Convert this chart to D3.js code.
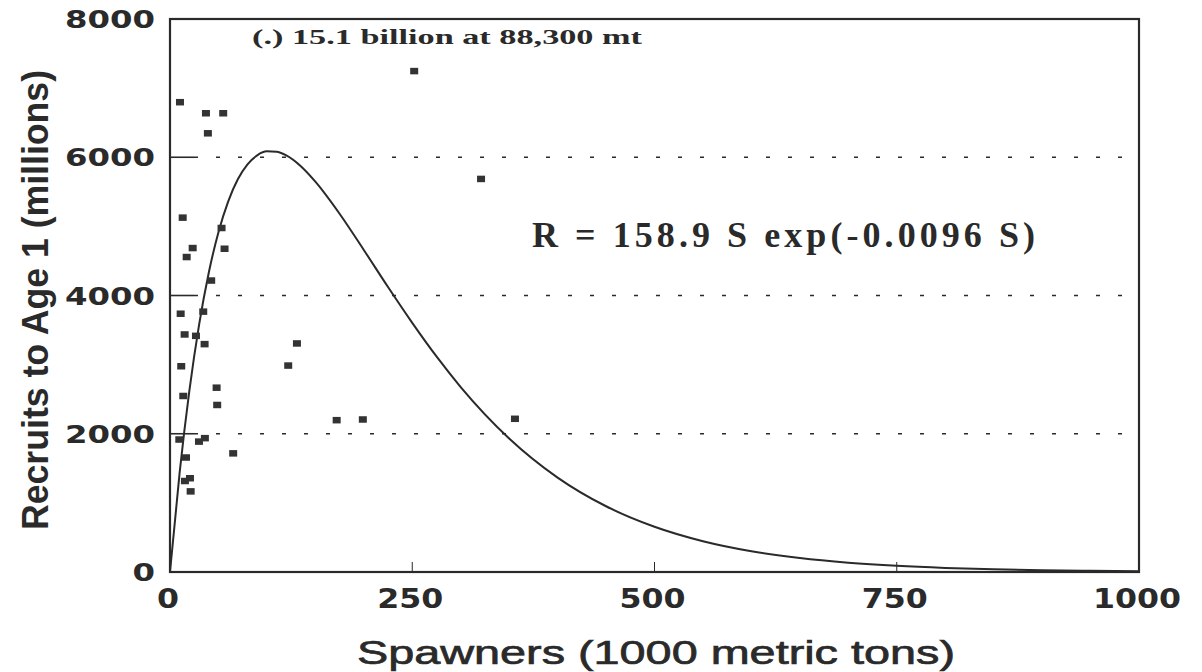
<!DOCTYPE html>
<html>
<head>
<meta charset="utf-8">
<script src="https://cdn.jsdelivr.net/npm/d3@7/dist/d3.min.js"></script>
<style>
  body { margin: 0; background: #fff; }
  svg { display: block; }
</style>
</head>
<body>
<svg id="chart" width="1202" height="672"></svg>
<script>
// observed spawners (1000 t) and recruits (millions)
const spawners = [10.3, 37.1, 54.9, 39.1, 13.1, 53.2, 23.4, 56.3, 17.2, 42.5,
                  11.0, 34.3, 15.1, 26.8, 35.7, 11.6, 48.1, 13.7, 48.7, 9.6,
                  29.9, 36.0, 65.2, 16.5, 20.6, 15.4, 21.3,
                  252, 321, 131, 122, 172, 199, 356]
const recruits = [6800, 6640, 6640, 6350, 5130, 4980, 4690, 4680, 4560, 4220,
                  3740, 3770, 3440, 3420, 3300, 2980, 2670, 2550, 2420, 1920,
                  1890, 1940, 1720, 1660, 1360, 1320, 1170,
                  7250, 5690, 3310, 2990, 2200, 2210, 2220]

// fitted Ricker curve
const curveS = [0, 10, 20, 30, 40, 50, 60, 70, 80, 90, 100, 110, 120, 135, 150, 175,
                200, 225, 250, 275, 300, 350, 400, 450, 500, 550, 600, 650, 700,
                750, 800, 850, 900, 950, 1000]
const curveR = [0, 1444, 2623, 3574, 4329, 4916, 5359, 5681, 5897, 6028, 6085, 6080,
                6026, 5870, 5647, 5183, 4659, 4122, 3604, 3118, 2676, 1932, 1366,
                951, 654, 445, 300, 201, 134, 89, 59, 39, 25, 17, 11]

const xTicks = [0, 250, 500, 750, 1000]
const yTicks = [0, 2000, 4000, 6000, 8000]
const gridValues = [2000, 4000, 6000]

const svg = d3.select("#chart")
const plotLeft = 170, plotRight = 1139, plotTop = 19, plotBottom = 572
const ink = "#2a2a2a"

const x = d3.scaleLinear().domain([0, 1000]).range([plotLeft, plotRight])
const y = d3.scaleLinear().domain([0, 8000]).range([plotBottom, plotTop])

// dotted grid + short solid ticks
gridValues.forEach(v => {
    svg.append("line")
        .attr("x1", plotLeft + 24).attr("x2", plotRight - 6)
        .attr("y1", y(v)).attr("y2", y(v))
        .attr("stroke", ink).attr("stroke-width", 1.6)
        .attr("stroke-dasharray", "4 18")
    svg.append("line")
        .attr("x1", plotLeft).attr("x2", plotLeft + 24)
        .attr("y1", y(v)).attr("y2", y(v))
        .attr("stroke", ink).attr("stroke-width", 1.6)
})

// small ticks on bottom axis
xTicks.slice(1, -1).forEach(v => {
    svg.append("line")
        .attr("x1", x(v)).attr("x2", x(v))
        .attr("y1", plotBottom).attr("y2", plotBottom - 10)
        .attr("stroke", ink).attr("stroke-width", 1)
})

// frame
svg.append("rect")
    .attr("x", plotLeft).attr("y", plotTop)
    .attr("width", plotRight - plotLeft).attr("height", plotBottom - plotTop)
    .attr("fill", "none").attr("stroke", ink).attr("stroke-width", 2.2)

// curve
const line = d3.line()
    .x((d, i) => x(curveS[i]))
    .y(d => y(d))
    .curve(d3.curveMonotoneX)
svg.append("path")
    .attr("d", line(curveR))
    .attr("fill", "none")
    .attr("stroke", ink)
    .attr("stroke-width", 2)

// points
svg.append("g").selectAll("rect")
    .data(spawners)
    .join("rect")
    .attr("x", d => x(d) - 4)
    .attr("y", (d, i) => y(recruits[i]) - 3)
    .attr("width", 8).attr("height", 6.5)
    .attr("fill", "#333")

// tick labels
const tickFont = "'DejaVu Sans', sans-serif"
yTicks.forEach(v => {
    const s = String(v)
    svg.append("text")
        .attr("x", 155).attr("y", y(v) + 9)
        .attr("text-anchor", "end")
        .attr("font-family", tickFont).attr("font-weight", "bold")
        .attr("font-size", 25).attr("fill", ink)
        .attr("textLength", s.length * 22.5).attr("lengthAdjust", "spacingAndGlyphs")
        .text(s)
})
xTicks.forEach(v => {
    const s = String(v)
    svg.append("text")
        .attr("x", x(v) - 2).attr("y", 608)
        .attr("text-anchor", "middle")
        .attr("font-family", tickFont).attr("font-weight", "bold")
        .attr("font-size", 26).attr("fill", ink)
        .attr("textLength", s.length * 22).attr("lengthAdjust", "spacingAndGlyphs")
        .text(s)
})

// axis titles
svg.append("text")
    .attr("x", 656).attr("y", 664)
    .attr("text-anchor", "middle")
    .attr("font-family", "'Liberation Sans', Arial, sans-serif")
    .attr("font-size", 34).attr("fill", ink)
    .attr("stroke", ink).attr("stroke-width", 0.7)
    .attr("textLength", 598).attr("lengthAdjust", "spacingAndGlyphs")
    .text("Spawners (1000 metric tons)")

svg.append("text")
    .attr("transform", "translate(48,300) rotate(-90)")
    .attr("text-anchor", "middle")
    .attr("font-family", "'Liberation Sans', Arial, sans-serif")
    .attr("font-weight", "bold")
    .attr("font-size", 36).attr("fill", ink)
    .attr("textLength", 460).attr("lengthAdjust", "spacingAndGlyphs")
    .text("Recruits to Age 1 (millions)")

// annotations
svg.append("text")
    .attr("x", 252).attr("y", 44)
    .attr("font-family", "'Liberation Serif', 'Times New Roman', serif")
    .attr("font-weight", "bold")
    .attr("font-size", 22).attr("fill", ink)
    .attr("textLength", 390).attr("lengthAdjust", "spacingAndGlyphs")
    .text("(.) 15.1 billion at 88,300 mt")

svg.append("text")
    .attr("x", 532).attr("y", 247)
    .attr("font-family", "'Liberation Serif', 'Times New Roman', serif")
    .attr("font-weight", "bold")
    .attr("font-size", 36).attr("fill", ink)
    .attr("textLength", 503).attr("lengthAdjust", "spacing")
    .text("R = 158.9 S exp(-0.0096 S)")
</script>
</body>
</html>
